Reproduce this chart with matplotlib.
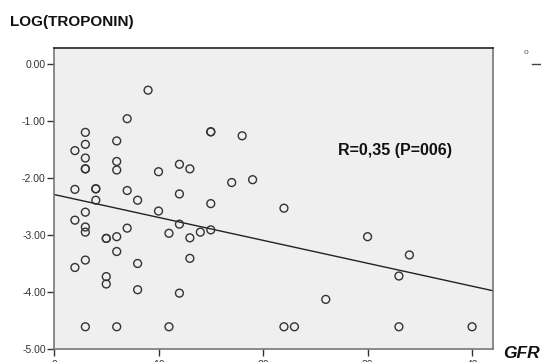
import matplotlib
matplotlib.use("Agg")
import matplotlib.pyplot as plt
import numpy as np

plt.rcParams['font.family'] = ['Liberation Sans', 'DejaVu Sans']

gfr = [9, 7, 3, 3, 2, 6, 3, 3, 3, 6, 6, 15, 15, 18, 10, 12, 13,
       2, 4, 4, 7, 17, 19, 12, 4, 8, 15,
       3, 2, 10, 3, 3, 7, 12, 5, 5, 6, 11, 13, 14, 15,
       6, 3, 2, 8, 13, 5, 5, 8, 12, 3, 6, 11,
       22, 30, 34, 33, 26, 22, 23, 33, 40]
log_troponin = [-0.46, -0.96, -1.20, -1.41, -1.52, -1.35, -1.65, -1.84, -1.84, -1.71, -1.86, -1.19, -1.19, -1.26, -1.89, -1.76, -1.84,
                -2.20, -2.19, -2.19, -2.22, -2.08, -2.03, -2.28, -2.39, -2.39, -2.45,
                -2.60, -2.74, -2.58, -2.86, -2.95, -2.88, -2.81, -3.06, -3.06, -3.03, -2.97, -3.05, -2.95, -2.91,
                -3.29, -3.44, -3.57, -3.50, -3.41, -3.73, -3.86, -3.96, -4.02, -4.61, -4.61, -4.61,
                -2.53, -3.03, -3.35, -3.72, -4.13, -4.61, -4.61, -4.61, -4.61]
fit_intercept = -2.29
fit_slope = -0.0402
x_ticks = [0, 10, 20, 30, 40]
y_ticks = [0.0, -1.0, -2.0, -3.0, -4.0, -5.0]
annotation = "R=0,35 (P=006)"

fig = plt.figure(figsize=(5.41, 3.62), dpi=100)
ax = fig.add_axes([54/541, (362-349)/362, (493-54)/541, (349-48)/362])
ax.set_facecolor('#efefef')
ax.set_xlim(0, 42)
ax.set_ylim(-5.0, 0.28)

ax.scatter(gfr, log_troponin, s=32, facecolors='none', edgecolors='#333333', linewidths=1.0, zorder=3)
xl = np.array([0, 42])
ax.plot(xl, fit_intercept + fit_slope * xl, color='#222222', lw=1.0, zorder=2)

ax.set_xticks(x_ticks)
ax.set_xticklabels([str(t) for t in x_ticks])
ax.set_yticks(y_ticks)
ax.set_yticklabels([f"{t:.2f}" for t in y_ticks])
ax.tick_params(axis='both', labelsize=7.5, colors='#333333', length=5, width=1, pad=1)
ax.tick_params(axis='x', pad=3)

for s in ['left', 'bottom', 'right']:
    ax.spines[s].set_color('#777777')
    ax.spines[s].set_linewidth(1.2)
ax.spines['top'].set_color('#222222')
ax.spines['top'].set_linewidth(1.2)

ax.text(32.6, -1.51, annotation, fontsize=11.5, fontweight='bold', ha='center', va='center', color='#111111')

fig.text(10/541, 1 - 22/362, "LOG(TROPONIN)", fontsize=11, fontweight='bold', ha='left', va='center', color='#111111')
fig.text(503/541, 1 - 353/362, "GFR", fontsize=12.5, fontweight='bold', fontstyle='italic', ha='left', va='center', color='#111111')

# legend fragment at top right
fig.text(524/541, 1 - 53/362, "o", fontsize=6, ha='left', va='center', color='#555555')
fig.add_artist(plt.Line2D([532/541, 541/541], [1 - 64/362, 1 - 64/362], color='#444444', lw=1))

fig.savefig("out.png", dpi=100)
